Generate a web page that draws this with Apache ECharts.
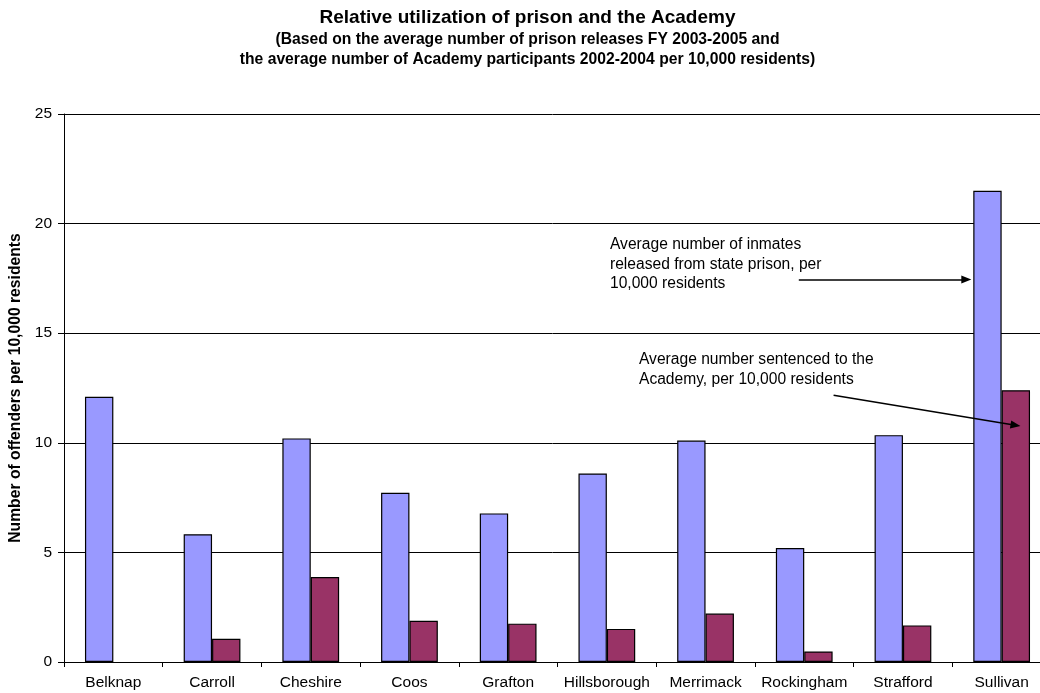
<!DOCTYPE html>
<html>
<head>
<meta charset="utf-8">
<script src="https://cdn.jsdelivr.net/npm/echarts@6/dist/echarts.min.js"></script>
<style>
html,body{margin:0;padding:0;background:#fff;}
#chart{width:1040px;height:693px;}
</style>
</head>
<body>
<div id="chart"></div>
<script>
const categories = ['Belknap','Carroll','Cheshire','Coos','Grafton','Hillsborough','Merrimack','Rockingham','Strafford','Sullivan'];
const prisonReleases = [12.1, 5.83, 10.2, 7.72, 6.78, 8.6, 10.1, 5.2, 10.35, 21.5];
const academyParticipants = [null, 1.06, 3.88, 1.88, 1.75, 1.51, 2.21, 0.48, 1.67, 12.4];
const yTicks = [0, 5, 10, 15, 20, 25];

const FONT = '"Liberation Sans", Arial, Helvetica, sans-serif';
const chart = echarts.init(document.getElementById('chart'));
chart.setOption({
  animation: false,
  backgroundColor: '#ffffff',
  textStyle: { fontFamily: FONT, color: '#000' },
  grid: { left: 64, right: -11, top: 114, bottom: 31, containLabel: false, outerBoundsMode: 'none' },
  xAxis: {
    type: 'category',
    data: categories,
    axisLine: { lineStyle: { color: '#000', width: 1 } },
    axisTick: { show: true, length: 5, lineStyle: { color: '#000' } },
    axisLabel: { color: '#000', fontSize: 15.5, fontFamily: FONT, margin: 13, interval: 0 },
    splitLine: { show: false }
  },
  yAxis: {
    type: 'value',
    min: yTicks[0],
    max: yTicks[yTicks.length - 1],
    interval: yTicks[1] - yTicks[0],
    name: 'Number of offenders per 10,000 residents',
    nameLocation: 'middle',
    nameGap: 34,
    nameTextStyle: { color: '#000', fontSize: 15.7, fontWeight: 'bold', fontFamily: FONT },
    axisLine: { show: true, lineStyle: { color: '#000', width: 1 } },
    axisTick: { show: true, length: 6, inside: false, lineStyle: { color: '#000' } },
    axisLabel: { color: '#000', fontSize: 15.5, fontFamily: FONT, margin: 12 },
    splitLine: { show: true, lineStyle: { color: '#000', width: 1 } }
  },
  series: [
    {
      name: 'Average number of inmates released from state prison, per 10,000 residents',
      type: 'bar',
      data: prisonReleases,
      barGap: '0%',
      barCategoryGap: '42.5%',
      itemStyle: { color: '#9999FF', borderColor: '#000', borderWidth: 1.2 },
      markLine: {
        silent: true,
        symbol: ['none', 'triangle'],
        symbolSize: [8, 10],
        label: { show: false },
        lineStyle: { color: '#000', width: 1.5, type: 'solid' },
        data: [
          [{ x: 798.8, y: 279.6 }, { x: 966.3, y: 279.6 }],
          [{ x: 833.6, y: 395.3 }, { x: 1015.5, y: 425.3 }]
        ]
      }
    },
    {
      name: 'Average number sentenced to the Academy, per 10,000 residents',
      type: 'bar',
      data: academyParticipants,
      barGap: '0%',
      barCategoryGap: '42.5%',
      itemStyle: { color: '#993366', borderColor: '#000', borderWidth: 1.2 }
    }
  ],
  graphic: [
    { type: 'text', x: 527.5, y: 17.4, silent: true,
      style: { text: 'Relative utilization of prison and the Academy', textAlign: 'center', textVerticalAlign: 'middle',
               font: 'bold 19px ' + FONT, fill: '#000' } },
    { type: 'text', x: 527.5, y: 39.6, silent: true,
      style: { text: '(Based on the average number of prison releases FY 2003-2005 and', textAlign: 'center', textVerticalAlign: 'middle',
               font: 'bold 15.7px ' + FONT, fill: '#000' } },
    { type: 'text', x: 527.5, y: 59.6, silent: true,
      style: { text: 'the average number of Academy participants 2002-2004 per 10,000 residents)', textAlign: 'center', textVerticalAlign: 'middle',
               font: 'bold 15.7px ' + FONT, fill: '#000' } },
    { type: 'text', x: 610, y: 235.5, silent: true,
      style: { text: 'Average number of inmates\nreleased from state prison, per\n10,000 residents', textAlign: 'left', textVerticalAlign: 'top',
               font: '15.6px ' + FONT, lineHeight: 19.3, fill: '#000' } },
    { type: 'text', x: 639, y: 349.6, silent: true,
      style: { text: 'Average number sentenced to the\nAcademy, per 10,000 residents', textAlign: 'left', textVerticalAlign: 'top',
               font: '15.6px ' + FONT, lineHeight: 20, fill: '#000' } }
  ]
});
</script>
</body>
</html>
